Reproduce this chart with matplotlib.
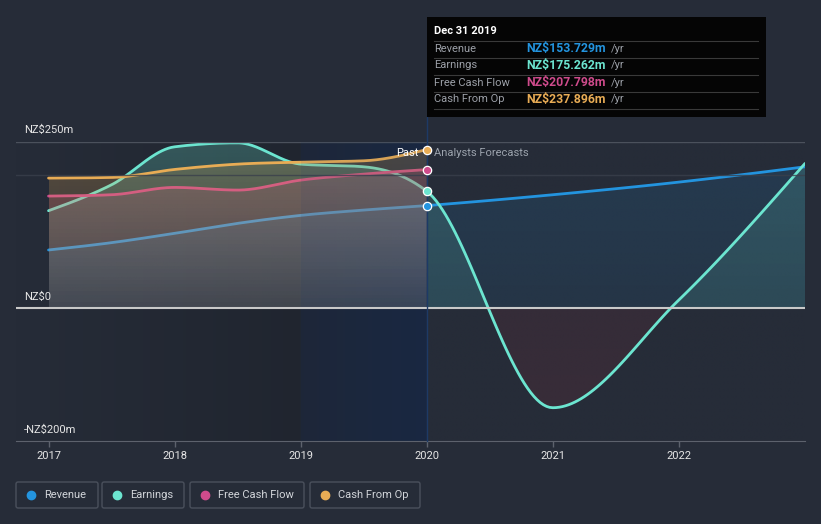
import numpy as np
import matplotlib.pyplot as plt
import matplotlib.colors as mcolors
from matplotlib.patches import PathPatch, FancyBboxPatch, Rectangle
from matplotlib.lines import Line2D
from matplotlib.transforms import Affine2D

plt.rcParams['font.family'] = ['Roboto', 'DejaVu Sans']

# data (NZ$ m), half-yearly history and yearly analyst forecasts
past_x = [2017.0, 2017.5, 2018.0, 2018.5, 2019.0, 2019.5, 2020.0]
fc_x = [2021.0, 2022.0, 2023.0]

revenue_past = [87, 98, 112, 127, 139, 147, 153.729]
earnings_past = [146, 185, 242, 248, 216, 212, 175.262]
fcf_past = [168, 170, 181, 177, 192, 201, 207.798]
cfo_past = [195, 196, 208, 216, 219, 221, 237.896]

revenue_fc = [170, 189, 212]
earnings_fc = [-150, 12, 217]

names = ['Revenue', 'Earnings', 'Free Cash Flow', 'Cash From Op']
colors = ['#2394df', '#6ce5d0', '#cf4b8c', '#e8ac55']

x_ticks = [2017, 2018, 2019, 2020, 2021, 2022]
y_ticks = [250, 0, -200]
y_labels = ['NZ$250m', 'NZ$0', '-NZ$200m']

BG = '#262c38'
W, H = 821, 524


def monotone(xs, ys, n=40):
    # monotone cubic like d3.curveMonotoneX
    xs = np.asarray(xs, float)
    ys = np.asarray(ys, float)
    h = np.diff(xs)
    s = np.diff(ys) / h
    t = np.zeros_like(ys)
    for i in range(1, len(xs) - 1):
        p = (s[i - 1] * h[i] + s[i] * h[i - 1]) / (h[i - 1] + h[i])
        t[i] = (np.sign(s[i - 1]) + np.sign(s[i])) * min(abs(s[i - 1]), abs(s[i]), 0.5 * abs(p))
    t[0] = (3 * s[0] - t[1]) / 2
    t[-1] = (3 * s[-1] - t[-2]) / 2
    ox, oy = [], []
    for i in range(len(xs) - 1):
        u = np.linspace(0, 1, n, endpoint=(i == len(xs) - 2))
        h00 = 2 * u**3 - 3 * u**2 + 1
        h10 = u**3 - 2 * u**2 + u
        h01 = -2 * u**3 + 3 * u**2
        h11 = u**3 - u**2
        ox.append(xs[i] + u * h[i])
        oy.append(h00 * ys[i] + h10 * h[i] * t[i] + h01 * ys[i + 1] + h11 * h[i] * t[i + 1])
    return np.concatenate(ox), np.concatenate(oy)


def grad_fill(ax, x, y, color, a_far, a_near, z, lim):
    poly = ax.fill_between(x, y, 0, facecolor='none', edgecolor='none')
    path = poly.get_paths()[0]
    poly.remove()
    patch = PathPatch(path, transform=ax.transData, facecolor='none', edgecolor='none')
    ax.add_patch(patch)
    img = np.zeros((300, 2, 4))
    img[..., :3] = mcolors.to_rgb(color)
    img[:, :, 3] = np.linspace(a_near, a_far, 300)[:, None]
    if lim > 0:
        lo, hi = 0, lim
    else:
        lo, hi = lim, 0
        img = img[::-1]
    im = ax.imshow(img, extent=[x.min(), x.max(), lo, hi], origin='lower',
                   aspect='auto', zorder=z, interpolation='bilinear')
    im.set_clip_path(patch)


fig = plt.figure(figsize=(W / 100, H / 100), dpi=100, facecolor=BG)
pix = Affine2D().scale(1 / W, -1 / H).translate(0, 1) + fig.transFigure

ax = fig.add_axes([16 / W, (H - 441) / H, (805 - 16) / W, (441 - 141.5) / H])
ax.set_facecolor('none')
ax.set_autoscale_on(False)
x0, x1 = 2016.742, 2023.0
ax.set_xlim(x0, x1)
ax.set_ylim(-200, 250)

# background: past darkening + last-year blue band, as one opaque image
bg_rgb = np.array(mcolors.to_rgb(BG))
band = np.array([20, 50, 100]) / 255
cols = np.linspace(x0, x1, 1600)
bg_img = np.tile(bg_rgb, (len(cols), 1))
past = cols <= past_x[-1]
a = 0.22 * (cols - x0) / (past_x[-1] - x0)
bg_img[past] = bg_img[past] * (1 - a[past, None])
last = (cols >= past_x[-3]) & past
b = 0.12 + 0.24 * (cols - past_x[-3]) / (past_x[-1] - past_x[-3])
bg_img[last] = bg_img[last] * (1 - b[last, None]) + band * b[last, None]
ax.imshow(np.stack([bg_img, bg_img]), extent=[x0, x1, -200, 250], origin='lower',
          aspect='auto', zorder=0.5, interpolation='bilinear')

series = [(revenue_past, revenue_fc), (earnings_past, earnings_fc), (fcf_past, None), (cfo_past, None)]
for i, (vals, fc) in enumerate(series):
    col = colors[i]
    xs = past_x + (fc_x if fc else [])
    ys = vals + (fc if fc else [])
    cx, cy = monotone(xs, ys)
    m = cx <= past_x[-1] + 1e-9
    grad_fill(ax, cx[m], cy[m], col, 0.26, 0.08, 1.5 + 0.1 * i, 250)
    ax.plot(cx[m], cy[m], color=col, lw=2.0, zorder=1.55 + 0.1 * i, solid_capstyle='round')
    if fc:
        f = cx >= past_x[-1] - 1e-9
        fx, fy = cx[f], cy[f]
        if i == 0:
            grad_fill(ax, fx, fy, col, 0.15, 0.09, 1.0, 250)
        else:
            grad_fill(ax, fx, np.maximum(fy, 0), col, 0.17, 0.12, 1.1, 250)
            grad_fill(ax, fx, np.minimum(fy, 0), '#e6323c', 0.10, 0.08, 1.1, -200)
        ax.plot(fx, fy, color=col, lw=2.0, zorder=2.5, solid_capstyle='round')

# light overlay on last-year band (mutes the lines there)
ax.axvspan(past_x[-3], past_x[-1], color=band, alpha=0.08, lw=0, zorder=3)

ax.axhline(200, color='#3a404c', lw=1, zorder=2.8, alpha=0.8)
ax.axhline(250, color='#4b515c', lw=1, zorder=2.8)
ax.axhline(0, color='#c9c9c9', lw=1.5, zorder=3.1)
ax.plot([past_x[-1]] * 2, [-200, 287], color='#1d3a66', lw=1, zorder=3.2, clip_on=False)

for i, (vals, fc) in enumerate(series):
    ax.scatter([past_x[-1]], [vals[-1]], s=36, color=colors[i], edgecolor='white',
               linewidth=0.9, zorder=6, clip_on=False)

for s in ['top', 'left', 'right']:
    ax.spines[s].set_visible(False)
ax.spines['bottom'].set_color('#5d626d')
ax.set_xticks(x_ticks)
ax.set_xticklabels([str(t) for t in x_ticks])
ax.tick_params(axis='x', colors='#5d626d', length=4, width=1, labelcolor='#e6e6e6',
               labelsize=8, pad=3)
ax.set_yticks([])

for v, lab in zip(y_ticks, y_labels):
    ax.annotate(lab, xy=(0, v), xycoords=('axes fraction', 'data'), xytext=(5.8, 8.2),
                textcoords='offset points', ha='left', va='center', color='#e6e6e6', fontsize=8)

ax.annotate('Past', xy=(past_x[-1], 250), xytext=(-5.8, -8.3), textcoords='offset points',
            ha='right', va='center', color='white', fontsize=8, zorder=7)
ax.annotate('Analysts Forecasts', xy=(past_x[-1], 250), xytext=(5.0, -8.3),
            textcoords='offset points', ha='left', va='center', color='#9ca3ad', fontsize=8, zorder=7)

# tooltip
fig.add_artist(Rectangle((427, 17), 339, 100, transform=pix, facecolor='#050505',
                         edgecolor='none', zorder=10))
fig.text(434, 31, 'Dec 31 2019', transform=pix, color='white', fontsize=8,
         fontweight='bold', va='center', zorder=11)
for sep_y in [40.5, 57.5, 74.5, 91.5, 108.5]:
    fig.add_artist(Line2D([434, 758], [sep_y, sep_y], transform=pix, color='#3a3a3a',
                          lw=0.8, zorder=11))
for k, (name, (vals, fc)) in enumerate(zip(names, series)):
    ry = 48.5 + 17 * k
    fig.text(434, ry, name, transform=pix, color='#9ca0a8', fontsize=8, va='center', zorder=11)
    fig.text(526, ry, 'NZ$%.3fm' % vals[-1], transform=pix, color=colors[k], fontsize=8.8,
             fontweight='bold', va='center', zorder=11)
    fig.text(611, ry, '/yr', transform=pix, color='#9ca0a8', fontsize=8, va='center', zorder=11)

# legend boxes
legend_boxes = [(16, 98), (102, 184), (190, 304), (310, 420)]
for (l, r), name, col in zip(legend_boxes, names, colors):
    fig.add_artist(FancyBboxPatch((l, 482), r - l, 26, boxstyle='round,pad=0,rounding_size=2',
                                  transform=pix, facecolor='none', edgecolor='#4a505c', lw=1))
    fig.add_artist(Line2D([l + 15], [495], transform=pix, marker='o', markersize=6,
                          color=col, linestyle='none'))
    fig.text(l + 28, 495, name, transform=pix, color='#d2d5da', fontsize=8, va='center')

fig.savefig('out.png', dpi=100, facecolor=BG)
